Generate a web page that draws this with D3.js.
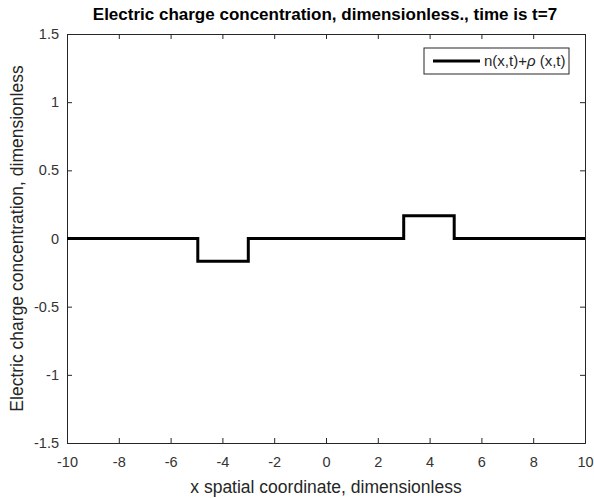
<!DOCTYPE html>
<html>
<head>
<meta charset="utf-8">
<script src="https://cdn.jsdelivr.net/npm/d3@7"></script>
<style>
  body { margin: 0; background: #fff; }
  svg { font-family: "Liberation Sans", Arial, sans-serif; }
</style>
</head>
<body>
<div id="chart"></div>
<script>
// step profile of n(x,t)+rho(x,t) at t=7
var xs = [-10, -4.95, -4.95, -3, -3, 3, 3, 4.95, 4.95, 10]
var ys = [0, 0, -0.167, -0.167, 0, 0, 0.167, 0.167, 0, 0]
var xTicks = [-10, -8, -6, -4, -2, 0, 2, 4, 6, 8, 10]
var yTicks = [-1.5, -1, -0.5, 0, 0.5, 1, 1.5]

var W = 594, H = 498
var margin = { top: 34, right: 9, bottom: 55, left: 67 },
    width = W - margin.left - margin.right,
    height = H - margin.top - margin.bottom

var svg = d3.select("#chart").append("svg")
    .attr("width", W).attr("height", H)

var g = svg.append("g")
    .attr("transform", "translate(" + margin.left + "," + margin.top + ")")

var x = d3.scaleLinear().domain([-10, 10]).range([0, width])
var y = d3.scaleLinear().domain([-1.5, 1.5]).range([height, 0])

var axisColor = "#262626"
// plain hyphen minus like matlab
var fmt = function (d) { return String(d) }

// bottom axis with inward ticks
var gx = g.append("g").attr("transform", "translate(0," + height + ")")
    .call(d3.axisBottom(x).tickValues(xTicks).tickFormat(fmt).tickSize(-5).tickPadding(14))
// top axis, ticks only
var gxt = g.append("g")
    .call(d3.axisTop(x).tickValues(xTicks).tickFormat("").tickSize(-5))
// left axis
var gy = g.append("g")
    .call(d3.axisLeft(y).tickValues(yTicks).tickFormat(fmt).tickSize(-5).tickPadding(8))
// right axis, ticks only
var gyr = g.append("g").attr("transform", "translate(" + width + ",0)")
    .call(d3.axisRight(y).tickValues(yTicks).tickFormat("").tickSize(-5))

;[gx, gxt, gy, gyr].forEach(function (a) {
    a.selectAll("path").attr("stroke", axisColor).attr("stroke-width", 1)
    a.selectAll("line").attr("stroke", axisColor)
    a.selectAll("text").attr("fill", "#333").style("font-size", "14.5px").style("font-family", "Liberation Sans, Arial, sans-serif")
})

// the line
var line = d3.line()
    .x(function (d, i) { return x(xs[i]) })
    .y(function (d, i) { return y(ys[i]) })

g.append("path")
    .datum(xs)
    .attr("d", line)
    .attr("fill", "none")
    .attr("stroke", "#000")
    .attr("stroke-width", 3)

// title
svg.append("text")
    .attr("x", margin.left + width / 2 - 1).attr("y", 20)
    .attr("text-anchor", "middle")
    .style("font-size", "17px").style("font-weight", "bold")
    .text("Electric charge concentration, dimensionless., time is t=7")

// axis labels
svg.append("text")
    .attr("x", margin.left + width / 2).attr("y", 493)
    .attr("text-anchor", "middle")
    .attr("fill", axisColor)
    .style("font-size", "17.5px")
    .text("x spatial coordinate, dimensionless")

svg.append("text")
    .attr("transform", "translate(23," + (margin.top + height / 2) + ") rotate(-90)")
    .attr("text-anchor", "middle")
    .attr("fill", axisColor)
    .style("font-size", "17.5px")
    .text("Electric charge concentration, dimensionless")

// legend
var lg = svg.append("g").attr("transform", "translate(424,48)")
lg.append("rect").attr("width", 145).attr("height", 26)
    .attr("fill", "#fff").attr("stroke", axisColor).attr("stroke-width", 1)
lg.append("line").attr("x1", 9).attr("x2", 56).attr("y1", 13).attr("y2", 13)
    .attr("stroke", "#000").attr("stroke-width", 3)
var lt = lg.append("text").attr("x", 60).attr("y", 18)
    .attr("fill", axisColor)
    .style("font-size", "15px")
lt.append("tspan").text("n(x,t)+")
lt.append("tspan").style("font-style", "italic").text("\u03C1")
lt.append("tspan").text(" (x,t)")
</script>
</body>
</html>
